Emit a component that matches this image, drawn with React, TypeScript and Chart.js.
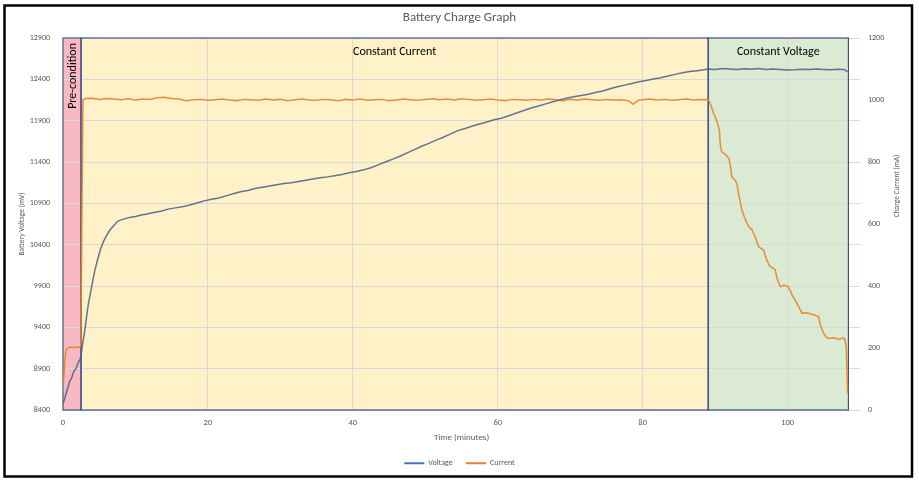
import React, { useEffect, useRef } from "react";
import { Chart, registerables } from "chart.js";

Chart.register(...registerables);

const FONT = "Carlito, Calibri, Lato, sans-serif";

const voltageTime = [
  0, 0.3, 0.6, 0.9, 1.2, 1.5, 1.8, 2.1, 2.3, 2.5, 2.7, 2.9, 3.1, 3.3, 3.5, 3.8, 4.1, 4.4, 4.8, 5.2,
  5.6, 6.0, 6.5, 7.0, 7.5, 8.0, 8.6, 9.2, 10.0, 10.8, 11.6, 12.5, 13.5, 14.5, 15.5, 16.5, 17.5, 18.5,
  19.5, 20.5, 21.5, 22.5, 23.5, 24.5, 25.5, 26.5, 27.5, 28.5, 29.5, 30.5, 31.5, 32.5, 33.5, 34.5,
  35.5, 36.5, 37.5, 38.5, 39.5, 40.5, 41.5, 42.5, 43.5, 44.5, 45.5, 46.5, 47.5, 48.5, 49.5, 50.5,
  51.5, 52.5, 53.5, 54.5, 55.5, 56.5, 57.5, 58.5, 59.5, 60.5, 61.5, 62.5, 63.5, 64.5, 65.5, 66.5,
  67.5, 68.5, 69.5, 70.5, 71.5, 72.5, 73.5, 74.5, 75.5, 76.5, 77.5, 78.5, 79.5, 80.5, 81.5, 82.5,
  83.5, 84.5, 85.5, 86.5, 87.5, 88.5, 89.0, 90, 91, 92, 93, 94, 95, 96, 97, 98, 99, 100, 101, 102,
  103, 104, 105, 106, 107, 107.8, 108.3,
];
const voltageMv = [
  8470, 8560, 8650, 8740, 8790, 8870, 8900, 8975, 9000, 9060, 9200, 9300, 9420, 9560, 9680, 9820,
  9960, 10090, 10230, 10350, 10440, 10510, 10580, 10630, 10680, 10700, 10715, 10730, 10740, 10760,
  10770, 10790, 10805, 10830, 10845, 10860, 10880, 10905, 10930, 10950, 10965, 10990, 11015, 11040,
  11055, 11080, 11095, 11110, 11125, 11140, 11150, 11165, 11180, 11195, 11210, 11220, 11235, 11250,
  11270, 11285, 11305, 11330, 11365, 11400, 11435, 11470, 11510, 11550, 11590, 11625, 11665, 11700,
  11740, 11780, 11805, 11835, 11860, 11885, 11910, 11930, 11960, 11990, 12020, 12050, 12075, 12100,
  12125, 12150, 12170, 12190, 12205, 12220, 12240, 12260, 12285, 12310, 12330, 12350, 12370, 12385,
  12405, 12420, 12440, 12460, 12480, 12495, 12505, 12515, 12525, 12520, 12530, 12525, 12520, 12528,
  12522, 12530, 12518, 12525, 12520, 12512, 12515, 12522, 12518, 12525, 12520, 12515, 12522, 12518,
  12490,
];

const currentTime = [
  0, 0.15, 0.3, 0.45, 0.7, 1.0, 1.4, 1.8, 2.2, 2.45, 2.6, 2.75,
  3, 4, 5, 6, 7, 8, 9, 10, 11, 12, 13, 14, 15, 16, 17, 18, 19, 20, 21, 22, 23, 24, 25, 26, 27, 28,
  29, 30, 31, 32, 33, 34, 35, 36, 37, 38, 39, 40, 41, 42, 43, 44, 45, 46, 47, 48, 49, 50, 51, 52,
  53, 54, 55, 56, 57, 58, 59, 60, 61, 62, 63, 64, 65, 66, 67, 68, 69, 70, 71, 72, 73, 74, 75, 76,
  77, 78, 78.7, 79.4, 80, 81, 82, 83, 84, 85, 86, 87, 88, 88.8,
  89.1, 89.3, 89.8, 90.2, 90.6, 90.7, 90.9, 91.4, 91.9, 92.1, 92.3, 92.8, 93.0, 93.3, 93.7, 94.0,
  94.4, 94.7, 95.1, 95.6, 96.0, 96.4, 96.7, 97.1, 97.6, 98.0, 98.3, 98.6, 99.0, 99.5, 100.1, 100.6,
  101.3, 101.6, 102.0, 102.4, 102.9, 103.5, 104.3, 104.5, 105.0, 105.3, 105.7, 106.3, 107.0, 107.7,
  107.9, 108.1, 108.3,
];
const currentMa = [
  70, 120, 170, 195, 200, 203, 201, 204, 202, 205, 600, 1000,
  1004, 1006, 1002, 1005, 1003, 1001, 1004, 1000, 1003, 1002, 1007, 1009, 1005, 1003, 998, 1001,
  1002, 999, 1001, 1003, 1000, 998, 1002, 1001, 999, 1003, 1000, 1002, 998, 1001, 1003, 1000, 999,
  1002, 1001, 998, 1002, 1000, 1003, 999, 1001, 1002, 998, 1000, 1003, 1001, 999, 1002, 1004, 1001,
  1003, 1000, 1004, 1002, 999, 1001, 1003, 1000, 998, 1002, 1001, 999, 1002, 1000, 1003, 1001, 998,
  1002, 1000, 1003, 1001, 999, 1002, 1000, 1001, 998, 986, 999, 1001, 1003, 1000, 1002, 999, 1001,
  1003, 1000, 1002, 1001,
  1000, 990, 957, 935, 903, 860, 833, 825, 812, 790, 753, 740, 731, 690, 645, 625, 602, 590, 581,
  555, 527, 520, 516, 485, 462, 458, 452, 420, 398, 402, 398, 372, 344, 330, 312, 314, 312, 308,
  301, 275, 247, 236, 231, 233, 228, 232, 228, 204, 54,
];

const xTickValues = [0, 20, 40, 60, 80, 100];
const phaseNames = ["Pre-condition", "Constant Current", "Constant Voltage"];
const phaseStart = [0, 2.49, 89.05];
const phaseEnd = [2.49, 89.05, 108.4];

const PHASE_FILLS = ["#F8B9C2", "#FFF1C8", "#DBEAD3"];
const PHASE_BORDER = "#3F5288";

const phasePlugin = {
  id: "phases",
  beforeDraw(chart: any) {
    const { ctx, chartArea, scales } = chart;
    const xs = scales.x;
    ctx.save();
    for (let i = 0; i < phaseNames.length; i++) {
      const l = xs.getPixelForValue(phaseStart[i]);
      const r = xs.getPixelForValue(phaseEnd[i]);
      ctx.fillStyle = PHASE_FILLS[i];
      ctx.fillRect(l, chartArea.top, r - l, chartArea.bottom - chartArea.top);
    }
    ctx.restore();
  },
  beforeDatasetsDraw(chart: any) {
    const { ctx, chartArea, scales } = chart;
    const xs = scales.x;
    ctx.save();
    ctx.strokeStyle = PHASE_BORDER;
    ctx.lineWidth = 1.2;
    for (let i = 0; i < phaseNames.length; i++) {
      const l = xs.getPixelForValue(phaseStart[i]);
      const r = xs.getPixelForValue(phaseEnd[i]);
      ctx.strokeRect(l, chartArea.top, r - l, chartArea.bottom - chartArea.top);
    }
    ctx.fillStyle = "#000000";
    ctx.font = `12px ${FONT}`;
    ctx.textBaseline = "middle";
    {
      const l = xs.getPixelForValue(phaseStart[0]);
      const r = xs.getPixelForValue(phaseEnd[0]);
      ctx.save();
      ctx.translate((l + r) / 2 + 0.5, chartArea.top + 5);
      ctx.rotate(-Math.PI / 2);
      ctx.textAlign = "right";
      ctx.fillText(phaseNames[0], 0, 0);
      ctx.restore();
    }
    ctx.textAlign = "center";
    for (let i = 1; i < phaseNames.length; i++) {
      const l = xs.getPixelForValue(phaseStart[i]);
      const r = xs.getPixelForValue(phaseEnd[i]);
      ctx.fillText(phaseNames[i], (l + r) / 2, chartArea.top + 14);
    }
    ctx.restore();
  },
  afterDraw(chart: any) {
    const { ctx, chartArea } = chart;
    ctx.save();
    ctx.fillStyle = "#595959";
    ctx.font = `7.5px ${FONT}`;
    ctx.textAlign = "center";
    ctx.textBaseline = "middle";
    ctx.translate(897, (chartArea.top + chartArea.bottom) / 2 - 38);
    ctx.rotate(-Math.PI / 2);
    ctx.fillText("Charge Current (mA)", 0, 0);
    ctx.restore();
    ctx.save();
    ctx.strokeStyle = "#000000";
    ctx.lineWidth = 2.5;
    ctx.strokeRect(4.5, 5.5, 907.5, 471);
    ctx.restore();
  },
};

const plainNumber = (v: any) => String(v);

export default function App() {
  const canvasRef = useRef<HTMLCanvasElement | null>(null);

  useEffect(() => {
    document.body.style.margin = "0";
    const canvas = canvasRef.current;
    if (!canvas) return;
    const tickColor = "#595959";
    const chart = new Chart(canvas, {
      type: "line",
      data: {
        datasets: [
          {
            label: "Voltage",
            data: voltageTime.map((t, i) => ({ x: t, y: voltageMv[i] })),
            borderColor: "rgba(78, 98, 135, 0.88)",
            backgroundColor: "#4472C4",
            borderWidth: 1.5,
            pointRadius: 0,
            yAxisID: "y",
            order: 1,
          },
          {
            label: "Current",
            data: currentTime.map((t, i) => ({ x: t, y: currentMa[i] })),
            borderColor: "rgba(232, 130, 40, 0.92)",
            backgroundColor: "#ED7D31",
            borderWidth: 1.5,
            pointRadius: 0,
            yAxisID: "y1",
            order: 2,
          },
        ],
      },
      options: {
        animation: false,
        responsive: false,
        devicePixelRatio: 1,
        events: [],
        layout: { padding: { left: 10, right: 10, top: 0, bottom: 4.7 } },
        elements: { line: { tension: 0 }, point: { radius: 0 } },
        plugins: {
          title: {
            display: true,
            text: "Battery Charge Graph",
            color: "#595959",
            font: { family: FONT, size: 13, weight: "normal" },
            padding: { top: 9.5, bottom: 12.9 },
          },
          legend: {
            position: "bottom",
            labels: {
              usePointStyle: true,
              pointStyle: "line",
              pointStyleWidth: 20,
              color: "#595959",
              font: { family: FONT, size: 8 },
              padding: 13.3,
              generateLabels: (c: any) => {
                const items = (Chart.defaults.plugins.legend.labels as any).generateLabels(c);
                const cols = ["#4472C4", "#ED7D31"];
                return items.map((it: any, i: number) => ({
                  ...it,
                  strokeStyle: cols[i],
                  fillStyle: cols[i],
                  lineWidth: 2,
                  pointStyle: "line",
                }));
              },
            },
          },
          tooltip: { enabled: false },
        },
        scales: {
          x: {
            type: "linear",
            min: 0,
            max: 110,
            afterBuildTicks: (s: any) => {
              s.ticks = xTickValues.map((v) => ({ value: v }));
            },
            afterFit: (s: any) => {
              s.height = 36;
            },
            ticks: {
              color: tickColor,
              font: { family: FONT, size: 8.5 },
              padding: 8,
              maxRotation: 0,
              callback: plainNumber,
            },
            grid: { color: "#D9D9D9", drawTicks: false, lineWidth: 1 },
            border: { display: false },
            title: {
              display: true,
              text: "Time (minutes)",
              color: tickColor,
              font: { family: FONT, size: 9 },
              padding: { top: 0, bottom: 3.3 },
            },
          },
          y: {
            type: "linear",
            position: "left",
            min: 8400,
            max: 12900,
            afterFit: (s: any) => {
              s.width = 53;
            },
            ticks: {
              stepSize: 500,
              color: tickColor,
              font: { family: FONT, size: 8 },
              padding: 13,
              callback: plainNumber,
            },
            grid: { color: "#D9D9D9", drawTicks: false, lineWidth: 1 },
            border: { display: false },
            title: {
              display: true,
              text: "Battery Voltage (mV)",
              color: tickColor,
              font: { family: FONT, size: 7.5 },
              padding: { top: 7.5, bottom: 0 },
            },
          },
          y1: {
            type: "linear",
            position: "right",
            min: 0,
            max: 1200,
            afterFit: (s: any) => {
              s.width = 49;
            },
            ticks: {
              stepSize: 200,
              color: tickColor,
              font: { family: FONT, size: 8 },
              padding: 8,
              callback: plainNumber,
            },
            grid: { display: false, drawTicks: false },
            border: { display: false },
          },
        },
      },
      plugins: [phasePlugin],
    } as any);
    return () => chart.destroy();
  }, []);

  return (
    <div style={{ width: 919, height: 482, background: "#FFFFFF" }}>
      <canvas ref={canvasRef} width={919} height={482} style={{ display: "block" }} />
    </div>
  );
}
